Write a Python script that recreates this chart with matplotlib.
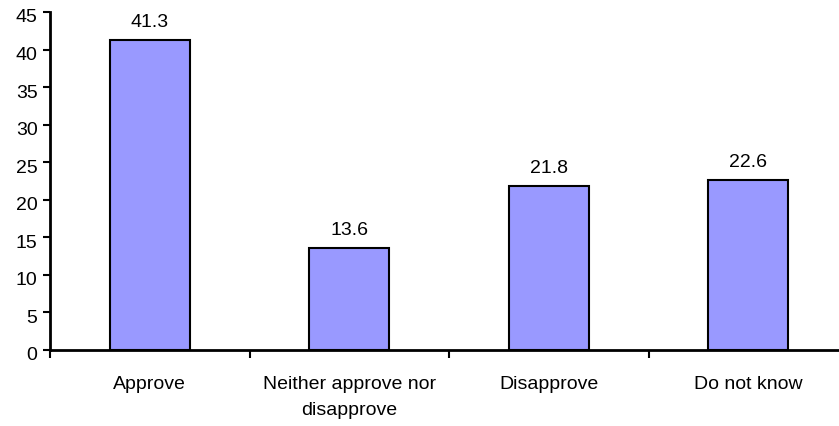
import numpy as np
import matplotlib.pyplot as plt
import matplotlib.transforms as mtransforms

categories = ["Approve", "Neither approve nor\ndisapprove", "Disapprove", "Do not know"]
values = [41.3, 13.6, 21.8, 22.6]
y_ticks = [0, 5, 10, 15, 20, 25, 30, 35, 40, 45]

plt.rcParams["font.family"] = ["Liberation Sans", "DejaVu Sans"]

fig = plt.figure(figsize=(8.39, 4.27), dpi=100)
# axes runs past the right edge of the image, like the original
ax = fig.add_axes([50 / 839, (427 - 351) / 427, 798 / 839, 338 / 427])

x = np.arange(len(categories))
bars = ax.bar(x, values, width=0.4, color="#9999ff", edgecolor="black", linewidth=1.5)

for b, v in zip(bars, values):
    ax.annotate(f"{v}", (b.get_x() + b.get_width() / 2, v), xytext=(0, 13.5),
                textcoords="offset points", ha="center", va="center", fontsize=14)

ax.set_xlim(-0.5, len(categories) - 0.5)
ax.set_ylim(0, 45)
ax.set_yticks(y_ticks)
ax.tick_params(axis="y", labelsize=14, length=5, width=1.5, pad=4)
# excel puts the numbers a touch below the tick
shift = mtransforms.ScaledTranslation(0, -3 / 100, fig.dpi_scale_trans)
for lbl in ax.get_yticklabels():
    lbl.set_transform(lbl.get_transform() + shift)

ax.set_xticks(np.arange(len(categories) + 1) - 0.5)
ax.set_xticklabels([])
ax.tick_params(axis="x", length=6, width=1.5)
ax.set_xticks(x, minor=True)
ax.set_xticklabels(categories, minor=True, fontsize=14, linespacing=1.7, va="top")
ax.tick_params(axis="x", which="minor", length=0, pad=18)

for side in ["top", "right"]:
    ax.spines[side].set_visible(False)
for side in ["left", "bottom"]:
    ax.spines[side].set_linewidth(2)

fig.savefig("out.png", dpi=100)
